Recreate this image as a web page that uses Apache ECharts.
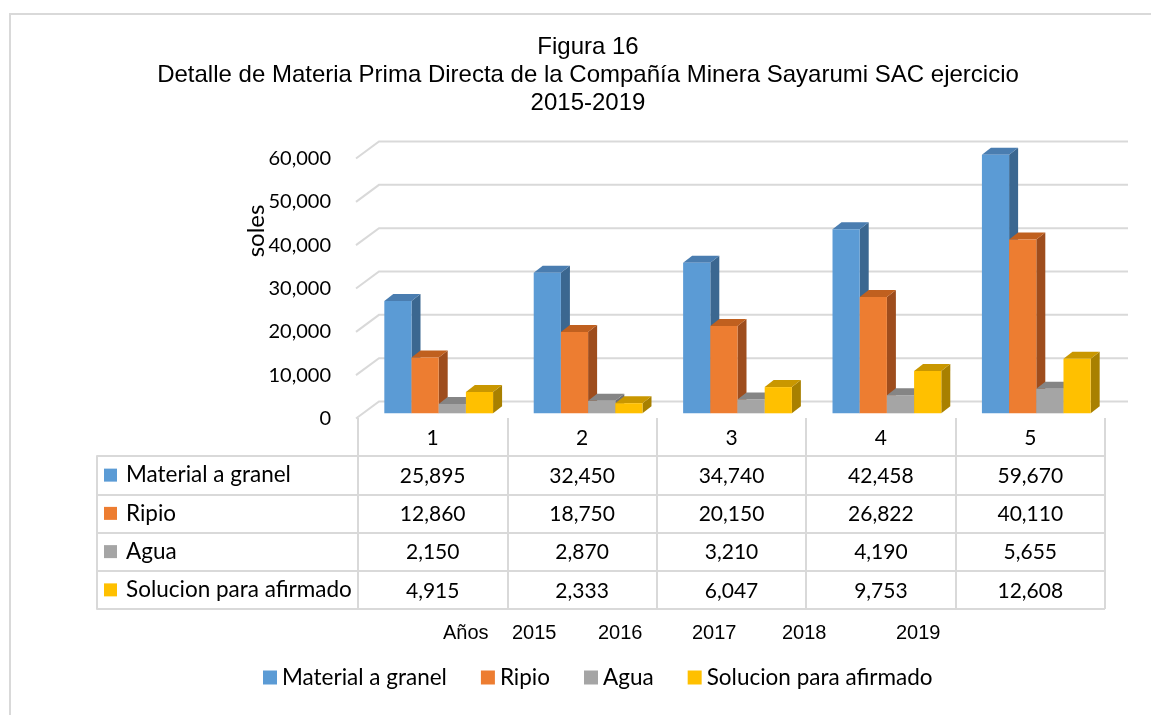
<!DOCTYPE html>
<html>
<head>
<meta charset="utf-8">
<script src="https://cdn.jsdelivr.net/npm/echarts@6/dist/echarts.min.js"></script>
<style>
  html, body { margin: 0; padding: 0; background: #fff; }
  #chart { width: 1151px; height: 715px; }
</style>
</head>
<body>
<div id="chart"></div>
<script>
// datos
const categories = ['1', '2', '3', '4', '5'];
const seriesNames = ['Material a granel', 'Ripio', 'Agua', 'Solucion para afirmado'];
const granel = [25895, 32450, 34740, 42458, 59670];
const ripio = [12860, 18750, 20150, 26822, 40110];
const agua = [2150, 2870, 3210, 4190, 5655];
const solucion = [4915, 2333, 6047, 9753, 12608];
const yTicks = [0, 10000, 20000, 30000, 40000, 50000, 60000];
const yearLabels = ['Años', '2015', '2016', '2017', '2018', '2019'];

const seriesValues = [granel, ripio, agua, solucion];
const colors = ['#5b9bd5', '#ed7d31', '#a5a5a5', '#ffc000'];
const topColors = ['#4a7db0', '#c0601f', '#858585', '#c99700'];
const sideColors = ['#3b6790', '#9e4d1d', '#707070', '#a88000'];

const gridColor = '#d9d9d9';
const labelFont = 'Lato';
const fmt = v => v.toLocaleString('en-US');

// caras de las barras 3D
function barRenderer(k) {
  return function (params, api) {
    const cat = api.value(0);
    const val = api.value(1);
    const base = api.coord([cat, 0]);
    const top = api.coord([cat, val]);
    const band = api.size([1, 0])[0];
    const w = band * 0.182;
    const x0 = base[0] - 2 * w + 6 + k * w;
    const x1 = x0 + w;
    const yB = base[1] - 5.2;
    const yT = top[1] - 5.2;
    const dx = 9, dy = -7;
    return {
      type: 'group',
      children: [
        { type: 'polygon', shape: { points: [[x1, yB], [x1 + dx, yB + dy], [x1 + dx, yT + dy], [x1, yT]] },
          style: { fill: sideColors[k] } },
        { type: 'polygon', shape: { points: [[x0, yT], [x1, yT], [x1 + dx, yT + dy], [x0 + dx, yT + dy]] },
          style: { fill: topColors[k] } },
        { type: 'rect', shape: { x: x0, y: yT, width: w, height: yB - yT },
          style: { fill: colors[k] } }
      ]
    };
  };
}

// celdas de la tabla
const tableCells = [];
categories.forEach((c, i) => tableCells.push([i, 0, c]));
seriesValues.forEach((vals, s) => vals.forEach((v, i) => tableCells.push([i, s + 1, fmt(v)])));

const rich = { t: { fontFamily: labelFont, fontSize: 22.5, color: '#000', padding: [0, 0, 0, 9] } };
colors.forEach((c, i) => { rich['s' + i] = { width: 13, height: 13, backgroundColor: c }; });

const series = [
  {
    type: 'custom',
    name: 'grid',
    xAxisIndex: 0, yAxisIndex: 0,
    z: 1, silent: true, clip: false,
    data: yTicks.map(v => [0, v]),
    renderItem: function (params, api) {
      const cs = params.coordSys;
      const y = api.coord([0, api.value(1)])[1];
      return {
        type: 'polyline',
        shape: { points: [[cs.x - 2, y], [cs.x + 21, y - 17], [cs.x + cs.width + 23, y - 17]] },
        style: { stroke: gridColor, lineWidth: 2, fill: null }
      };
    }
  }
];
seriesValues.forEach((vals, k) => {
  series.push({
    type: 'custom',
    name: seriesNames[k],
    xAxisIndex: 0, yAxisIndex: 0,
    z: 2, clip: false,
    itemStyle: { color: colors[k] },
    data: vals.map((v, i) => [i, v]),
    renderItem: barRenderer(k)
  });
});
series.push({
  type: 'custom',
  name: 'tabla',
  xAxisIndex: 1, yAxisIndex: 1,
  z: 3, silent: true,
  data: tableCells.map(c => [c[0], c[1]]),
  renderItem: function (params, api) {
    const p = api.coord([api.value(0), api.value(1)]);
    return {
      type: 'text',
      style: { x: p[0], y: p[1] + 1, text: tableCells[params.dataIndex][2], align: 'center', verticalAlign: 'middle',
        font: '21px ' + labelFont, fill: '#000' }
    };
  }
});

const yearX = [443, 512, 598, 692, 782, 896];

const option = {
  backgroundColor: '#fff',
  animation: false,
  legend: {
    data: seriesNames,
    left: 263,
    top: 666,
    padding: 0,
    icon: 'rect',
    itemWidth: 14,
    itemHeight: 14,
    itemGap: 34,
    textStyle: { fontFamily: labelFont, fontSize: 22.5, color: '#000' }
  },
  grid: [
    { left: 358, right: 46, top: 158.5, height: 260 },
    { left: 358, right: 46, top: 418, height: 191 },
    { left: 97, width: 261, top: 456, height: 153 }
  ],
  xAxis: [
    { type: 'category', gridIndex: 0, data: categories, show: false },
    { type: 'category', gridIndex: 1, data: categories,
      axisLine: { show: false }, axisTick: { show: false }, axisLabel: { show: false },
      splitLine: { show: true, interval: 0, lineStyle: { color: gridColor, width: 2 } } },
    { type: 'value', gridIndex: 2, show: false, min: 0, max: 1 }
  ],
  yAxis: [
    { type: 'value', gridIndex: 0, min: 0, max: 60000, interval: 10000,
      axisLine: { show: false }, axisTick: { show: false }, splitLine: { show: false },
      axisLabel: { margin: 27, formatter: fmt, fontFamily: labelFont, fontSize: 20, color: '#000' } },
    { type: 'category', gridIndex: 1, data: [''].concat(seriesNames), inverse: true,
      axisLine: { show: false }, axisTick: { show: false }, axisLabel: { show: false },
      splitLine: { show: true, interval: 0, showMinLine: false, lineStyle: { color: gridColor, width: 2 } } },
    { type: 'category', gridIndex: 2, data: seriesNames, inverse: true,
      axisLine: { show: true, lineStyle: { color: gridColor, width: 2 } },
      axisTick: { show: false },
      splitLine: { show: true, interval: 0, lineStyle: { color: gridColor, width: 2 } },
      axisLabel: { inside: true, margin: 7, interval: 0,
        formatter: (v, i) => '{s' + i + '|}{t|' + v + '}', rich: rich } }
  ],
  graphic: [
    { type: 'rect', silent: true, shape: { x: 10, y: 14, width: 1160, height: 720 },
      style: { fill: null, stroke: gridColor, lineWidth: 2 } },
    { type: 'text', silent: true, x: 588, y: 33,
      style: { text: 'Figura 16\nDetalle de Materia Prima Directa de la Compañía Minera Sayarumi SAC ejercicio\n2015-2019',
        align: 'center', verticalAlign: 'top', font: '24px "Liberation Sans"', lineHeight: 28, fill: '#000' } },
    { type: 'text', silent: true, x: 256, y: 231, rotation: Math.PI / 2,
      style: { text: 'soles', align: 'center', verticalAlign: 'middle', font: '24px ' + labelFont, fill: '#000' } }
  ].concat(yearLabels.map((t, i) => ({
    type: 'text', silent: true, x: yearX[i], y: 633,
    style: { text: t, align: 'left', verticalAlign: 'middle', font: '20px "Liberation Sans"', fill: '#000' }
  }))),
  series: series
};

const chart = echarts.init(document.getElementById('chart'));
chart.setOption(option);
</script>
</body>
</html>
